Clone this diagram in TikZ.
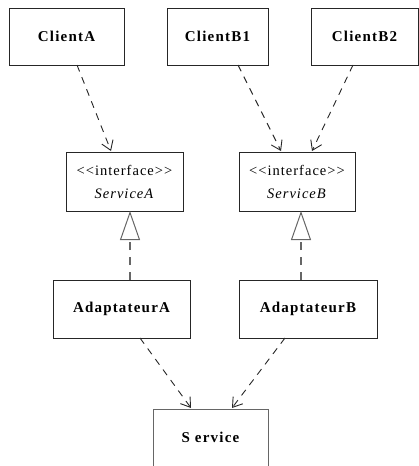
\documentclass[tikz,border=0pt]{standalone}
\usepackage{fontspec}
\setmainfont{Liberation Serif}
\usetikzlibrary{arrows.meta}
\newcommand{\stereo}[1]{{<}{<}#1{>}{>}}
\tikzset{
  classbox/.style={draw=black!85, line width=1pt, rectangle, inner sep=0pt, outer sep=0pt,
    font=\fontsize{15}{17}\selectfont\bfseries\addfontfeatures{LetterSpace=8}},
  ifacebox/.style={draw=black!85, line width=1pt, rectangle, inner sep=0pt, outer sep=0pt,
    align=center, font=\fontsize{14.5}{23}\selectfont\addfontfeatures{LetterSpace=7}},
  uses/.style={draw=black!85, line width=0.9pt, dash pattern=on 7pt off 6pt,
    -{Straight Barb[length=9pt,width=12pt,line width=0.9pt]}},
  realizes/.style={draw=black!60, line width=1.1pt, dash pattern=on 8pt off 7pt,
    -{Triangle[open,length=29pt,width=20pt,line width=1pt,fill=white]}},
}
\begin{document}
\begin{tikzpicture}[x=1pt,y=-1pt]
  \useasboundingbox (0,0) rectangle (419,466);
  \clip (0,0) rectangle (419,466);

  % clients
  \node[classbox, minimum width=115pt, minimum height=57pt] (ca)  at (66.5,36.5)  {ClientA};
  \node[classbox, minimum width=101pt, minimum height=57pt] (cb1) at (217.5,36.5) {ClientB1};
  \node[classbox, minimum width=107pt, minimum height=57pt] (cb2) at (364.5,36.5) {ClientB2};

  % interfaces
  \node[ifacebox, minimum width=117pt, minimum height=59pt] (sa) at (124.5,181.5)
    {\stereo{interface}\\\textit{ServiceA}};
  \node[ifacebox, minimum width=116pt, minimum height=59pt] (sb) at (297,181.5)
    {\stereo{interface}\\\textit{ServiceB}};

  % adapters
  \node[classbox, minimum width=137pt, minimum height=58pt] (aa) at (121.5,309) {AdaptateurA};
  \node[classbox, minimum width=138pt, minimum height=58pt] (ab) at (308,309)   {AdaptateurB};

  % adapted service (runs past the lower edge)
  \node[classbox, draw=black!60, minimum width=115pt, minimum height=70pt, anchor=north] (srv)
    at (210.5,409) {};
  \node[font=\fontsize{15}{17}\selectfont\bfseries\addfontfeatures{LetterSpace=8}] (srvlabel)
    at (210.5,437) {S ervice};

  % dependencies
  \draw[uses] ([xshift=10.5pt]ca.south)  -- ([xshift=-13.5pt,yshift=1pt]sa.north);
  \draw[uses] ([xshift=20.5pt]cb1.south) -- ([xshift=-16pt,yshift=1pt]sb.north);
  \draw[uses] ([xshift=-11.5pt]cb2.south) -- ([xshift=15pt,yshift=1pt]sb.north);
  \draw[uses] ([xshift=18.5pt]aa.south)  -- ([xshift=-19.5pt,yshift=1pt]srv.north);
  \draw[uses] ([xshift=-23pt]ab.south)   -- ([xshift=21.5pt,yshift=1pt]srv.north);

  % realizations
  \draw[realizes] ([xshift=8.5pt]aa.north) -- ([xshift=5.5pt]sa.south);
  \draw[realizes] ([xshift=-7pt]ab.north)  -- ([xshift=4pt]sb.south);
\end{tikzpicture}
\end{document}
